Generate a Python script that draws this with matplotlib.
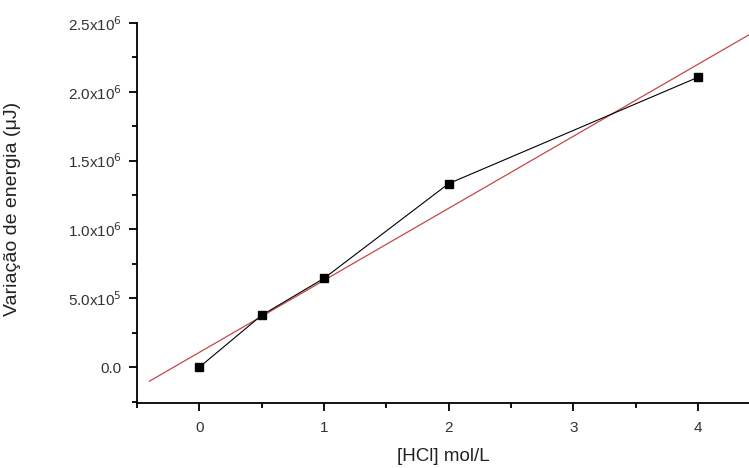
import matplotlib
matplotlib.use("Agg")
import matplotlib.pyplot as plt
from matplotlib.ticker import FixedLocator, MultipleLocator
import numpy as np

plt.rcParams['font.family'] = ['Liberation Sans', 'DejaVu Sans']

# data
conc = [0, 0.5, 1, 2, 4]
energy = [0, 3.77e5, 6.45e5, 1.333e6, 2.105e6]
fit_x = [-0.4, 4.6]

y_ticks = [0, 5e5, 1e6, 1.5e6, 2e6, 2.5e6]
y_labels = ["0.0", r"5.0x10$^{5}$", r"1.0x10$^{6}$", r"1.5x10$^{6}$",
            r"2.0x10$^{6}$", r"2.5x10$^{6}$"]

fig = plt.figure(figsize=(7.49, 4.68), dpi=100)
ax = fig.add_axes([0.183, 0.139, 0.817, 0.812])

# linear fit
slope, inter = np.polyfit(conc, energy, 1)
ax.plot(fit_x, [slope * v + inter for v in fit_x], color='#c44848', lw=0.9, zorder=2)

ax.plot(conc, energy, color='black', lw=0.8, marker='s', markersize=6,
        markerfacecolor='black', zorder=3)

ax.set_xlim(-0.5, 4.41)
ax.set_ylim(-2.6e5, 2.5e6)

ax.xaxis.set_major_locator(FixedLocator([0, 1, 2, 3, 4]))
ax.xaxis.set_minor_locator(MultipleLocator(0.5))
ax.yaxis.set_major_locator(FixedLocator(y_ticks))
ax.set_yticklabels(y_labels)
ax.yaxis.set_minor_locator(MultipleLocator(2.5e5))

for s in ['top', 'right']:
    ax.spines[s].set_visible(False)
for s in ['left', 'bottom']:
    ax.spines[s].set_linewidth(1.3)

ax.tick_params(which='major', direction='out', length=6, width=1.3,
               labelsize=11, labelcolor='#333333', pad=5)
ax.tick_params(axis='x', which='major', pad=7)
ax.tick_params(which='minor', direction='out', length=3.5, width=1.3)

ax.set_xlabel("[HCl] mol/L", fontsize=13.5, color='#222222', labelpad=9)
ax.set_ylabel("Variação de energia (μJ)", fontsize=14, color='#222222')
ax.yaxis.set_label_coords(-0.19, 0.51)

fig.savefig("out.png", dpi=100)
